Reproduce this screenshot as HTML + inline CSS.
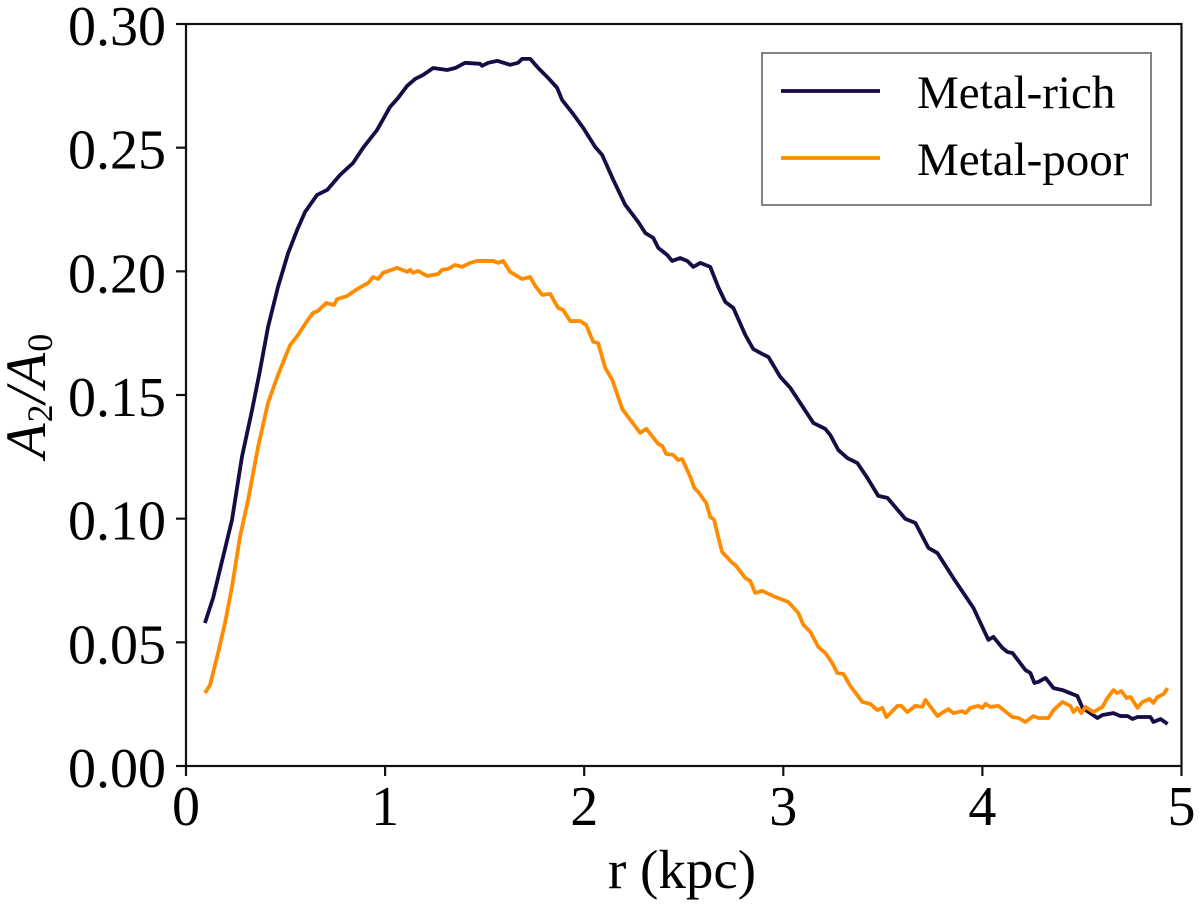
<!DOCTYPE html>
<html lang="en">
<head>
<meta charset="utf-8">
<title>A2/A0 vs radius</title>
<style>
html,body{margin:0;padding:0;background:#fff;width:1200px;height:906px;overflow:hidden}
svg{display:block;font-family:"Liberation Serif",serif;fill:#000}
</style>
</head>
<body>
<svg id="chart" xmlns="http://www.w3.org/2000/svg" width="1200" height="906" viewBox="0 0 1200 906">
  <defs>
    <filter id="soft" x="-5%" y="-5%" width="110%" height="110%"><feGaussianBlur stdDeviation="0.35"/></filter>
  </defs>
  <rect x="0" y="0" width="1200" height="906" fill="#fff"/>
  <g id="series" filter="url(#soft)"></g>
  <g id="ticks"></g>
  <rect x="186" y="24" width="995.5" height="742" fill="none" stroke="#111" stroke-width="2.2"/>
  <text x="682" y="888" font-size="55" text-anchor="middle">r (kpc)</text>
  <text transform="translate(45,396) rotate(-90)" font-size="57" text-anchor="middle" font-style="italic">A<tspan font-size="36" font-style="normal" dy="7" dx="1">2</tspan><tspan dy="-7" dx="1">/A</tspan><tspan font-size="36" font-style="normal" dy="7" dx="1">0</tspan></text>
  <g>
    <rect x="762" y="53" width="389" height="152" fill="#fff" stroke="#777" stroke-width="1.8"/>
    <line x1="781" x2="880" y1="91" y2="91" stroke="#170845" stroke-width="3.8"/>
    <text x="917" y="108" font-size="47">Metal-rich</text>
    <line x1="781" x2="880" y1="158" y2="158" stroke="#ff8c00" stroke-width="3.8"/>
    <text x="917" y="175" font-size="47">Metal-poor</text>
  </g>
</svg>
<script>
const xTickValues = [0, 1, 2, 3, 4, 5];
const xTickLabels = ["0", "1", "2", "3", "4", "5"];
const yTickValues = [0, 0.05, 0.10, 0.15, 0.20, 0.25, 0.30];
const yTickLabels = ["0.00", "0.05", "0.10", "0.15", "0.20", "0.25", "0.30"];

const richR = [0.095,0.136,0.186,0.231,0.281,0.332,0.372,0.412,0.462,0.513,0.558,0.598,0.658,0.709,0.774,0.839,0.889,0.960,1.025,1.065,1.111,1.151,1.191,1.241,1.312,1.352,1.402,1.477,1.487,1.518,1.563,1.628,1.668,1.688,1.729,1.769,1.819,1.864,1.889,1.940,1.995,2.055,2.090,2.146,2.206,2.271,2.307,2.347,2.372,2.417,2.442,2.482,2.518,2.548,2.583,2.633,2.673,2.709,2.749,2.809,2.849,2.894,2.925,2.985,3.035,3.075,3.151,3.211,3.236,3.276,3.322,3.372,3.422,3.477,3.523,3.613,3.663,3.729,3.774,3.854,3.955,4.030,4.055,4.101,4.126,4.151,4.216,4.241,4.261,4.281,4.317,4.357,4.402,4.477,4.503,4.578,4.603,4.658,4.693,4.729,4.754,4.779,4.844,4.859,4.895,4.930];
const richA = [0.0578,0.0679,0.0845,0.0995,0.1250,0.1440,0.1601,0.1775,0.1937,0.2074,0.2167,0.2240,0.2309,0.2329,0.2390,0.2438,0.2499,0.2572,0.2665,0.2701,0.2750,0.2778,0.2794,0.2822,0.2814,0.2822,0.2843,0.2839,0.2831,0.2843,0.2851,0.2835,0.2843,0.2859,0.2859,0.2822,0.2782,0.2742,0.2693,0.2641,0.2580,0.2503,0.2471,0.2370,0.2269,0.2200,0.2155,0.2135,0.2095,0.2066,0.2042,0.2054,0.2042,0.2018,0.2034,0.2018,0.1937,0.1876,0.1852,0.1743,0.1686,0.1666,0.1654,0.1573,0.1529,0.1480,0.1387,0.1363,0.1338,0.1278,0.1245,0.1225,0.1165,0.1092,0.1084,0.0999,0.0983,0.0882,0.0861,0.0760,0.0639,0.0510,0.0522,0.0477,0.0461,0.0457,0.0388,0.0376,0.0336,0.0340,0.0356,0.0315,0.0307,0.0283,0.0235,0.0194,0.0206,0.0214,0.0202,0.0202,0.0190,0.0198,0.0198,0.0178,0.0190,0.0170];

const poorR = [0.095,0.121,0.161,0.196,0.231,0.271,0.312,0.362,0.412,0.462,0.523,0.563,0.608,0.638,0.663,0.704,0.744,0.759,0.809,0.839,0.869,0.915,0.940,0.965,0.990,1.060,1.111,1.126,1.141,1.166,1.211,1.266,1.286,1.317,1.352,1.387,1.427,1.462,1.543,1.568,1.593,1.628,1.688,1.729,1.754,1.789,1.829,1.869,1.894,1.930,1.980,2.010,2.045,2.070,2.106,2.141,2.191,2.221,2.281,2.312,2.372,2.392,2.412,2.447,2.472,2.492,2.533,2.553,2.573,2.613,2.633,2.653,2.673,2.693,2.744,2.759,2.809,2.834,2.859,2.894,2.950,3.025,3.075,3.101,3.136,3.176,3.211,3.246,3.271,3.302,3.337,3.397,3.437,3.472,3.497,3.518,3.573,3.593,3.623,3.663,3.698,3.714,3.774,3.804,3.829,3.854,3.899,3.915,3.940,3.980,4.000,4.015,4.040,4.080,4.151,4.181,4.216,4.256,4.281,4.332,4.357,4.402,4.442,4.457,4.477,4.497,4.518,4.558,4.603,4.628,4.658,4.678,4.698,4.724,4.744,4.779,4.804,4.839,4.859,4.879,4.910,4.930];
const poorA = [0.0295,0.0328,0.0457,0.0578,0.0724,0.0926,0.1076,0.1290,0.1468,0.1581,0.1702,0.1743,0.1799,0.1832,0.1840,0.1872,0.1864,0.1888,0.1900,0.1917,0.1933,0.1953,0.1977,0.1969,0.1994,0.2014,0.1998,0.2006,0.1994,0.2002,0.1981,0.1989,0.2006,0.2010,0.2026,0.2018,0.2034,0.2042,0.2042,0.2034,0.2042,0.1998,0.1969,0.1977,0.1941,0.1905,0.1909,0.1852,0.1844,0.1799,0.1799,0.1783,0.1715,0.1710,0.1609,0.1561,0.1444,0.1411,0.1347,0.1363,0.1302,0.1294,0.1262,0.1258,0.1237,0.1241,0.1169,0.1124,0.1108,0.1063,0.1007,0.0995,0.0926,0.0865,0.0821,0.0813,0.0760,0.0748,0.0700,0.0708,0.0687,0.0663,0.0619,0.0570,0.0542,0.0481,0.0457,0.0416,0.0376,0.0372,0.0323,0.0259,0.0251,0.0226,0.0235,0.0198,0.0243,0.0243,0.0218,0.0243,0.0239,0.0267,0.0202,0.0218,0.0230,0.0214,0.0222,0.0214,0.0235,0.0243,0.0235,0.0251,0.0239,0.0243,0.0198,0.0194,0.0178,0.0202,0.0194,0.0194,0.0226,0.0259,0.0243,0.0218,0.0235,0.0214,0.0239,0.0218,0.0239,0.0275,0.0307,0.0295,0.0303,0.0275,0.0279,0.0235,0.0259,0.0271,0.0255,0.0279,0.0291,0.0315];

const NS = 'http://www.w3.org/2000/svg';
const plotLeft = 186, plotRight = 1181.5, plotTop = 24, plotBottom = 766;
function xScale(v) { return plotLeft + (v / 5) * (plotRight - plotLeft); }
function yScale(v) { return plotBottom - (v / 0.30) * (plotBottom - plotTop); }

const seriesGroup = document.getElementById('series');
const tickGroup = document.getElementById('ticks');

function pointsFor(rs, as) {
  return rs.map(function (r, i) { return xScale(r).toFixed(2) + ',' + yScale(as[i]).toFixed(2); }).join(' ');
}

function makeLine(rs, as, color) {
  const el = document.createElementNS(NS, 'polyline');
  el.setAttribute('points', pointsFor(rs, as));
  el.setAttribute('fill', 'none');
  el.setAttribute('stroke', color);
  el.setAttribute('stroke-width', '3.8');
  el.setAttribute('stroke-linejoin', 'round');
  seriesGroup.appendChild(el);
  return el;
}

const richLine = makeLine(richR, richA, '#170845');



const poorLine = makeLine(poorR, poorA, '#ff8c00');



xTickValues.forEach(function (v, i) {
  const mark = document.createElementNS(NS, 'line');
  
  
  mark.setAttribute('x1', xScale(v));
  mark.setAttribute('x2', xScale(v));
  mark.setAttribute('y1', plotBottom);
  mark.setAttribute('y2', plotBottom + 10);
  mark.setAttribute('stroke', '#111');
  mark.setAttribute('stroke-width', '2.2');
  tickGroup.appendChild(mark);
  const label = document.createElementNS(NS, 'text');
  
  
  label.setAttribute('x', xScale(v));
  label.setAttribute('y', plotBottom + 59);
  label.setAttribute('font-size', '56');
  label.setAttribute('text-anchor', 'middle');
  label.textContent = xTickLabels[i];
  tickGroup.appendChild(label);
});

yTickValues.forEach(function (v, i) {
  const mark = document.createElementNS(NS, 'line');
  
  
  mark.setAttribute('x1', plotLeft - 10);
  mark.setAttribute('x2', plotLeft);
  mark.setAttribute('y1', yScale(v));
  mark.setAttribute('y2', yScale(v));
  mark.setAttribute('stroke', '#111');
  mark.setAttribute('stroke-width', '2.2');
  tickGroup.appendChild(mark);
  const label = document.createElementNS(NS, 'text');
  
  
  label.setAttribute('x', plotLeft - 20);
  label.setAttribute('y', yScale(v) + 21);
  label.setAttribute('font-size', '56');
  label.setAttribute('text-anchor', 'end');
  label.textContent = yTickLabels[i];
  tickGroup.appendChild(label);
});
</script>
</body>
</html>
